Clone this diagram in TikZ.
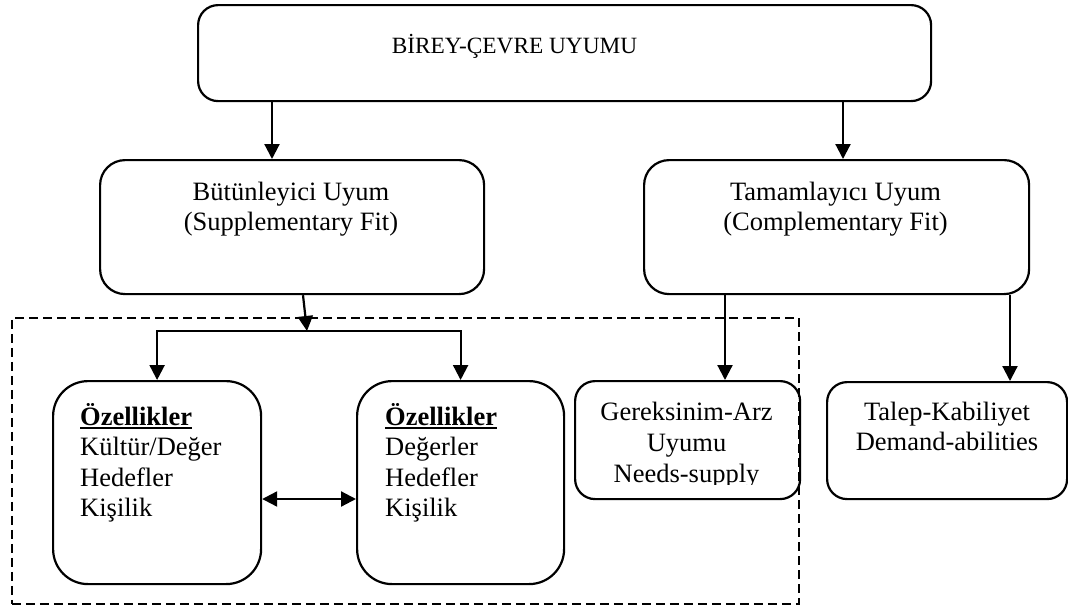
\documentclass[tikz,border=0pt]{standalone}
\usepackage{fontspec}
\setmainfont{Liberation Serif}
\usetikzlibrary{arrows.meta}
% bold heading with a heavy underline just below the baseline
\newcommand\ulhead[1]{\setbox0\hbox{\textbf{#1}}\rlap{\rule[-4pt]{\wd0}{2.4pt}}\box0}
\begin{document}
\begin{tikzpicture}[x=1pt,y=-1pt,
  box/.style={draw, line width=2.2pt, rectangle, inner sep=0pt, anchor=north west},
  lbl/.style={inner sep=0pt, anchor=base, font=\fontsize{26.5}{30}\selectfont},
  tip/.tip={Triangle[length=15pt,width=15pt]},
  arr/.style={line width=2.2pt, -tip},
  dbl/.style={line width=2.2pt, tip-tip},
  frame/.style={draw, line width=1.5pt, dash pattern=on 9pt off 5pt, inner sep=0pt, anchor=north west}]
\useasboundingbox (0,0) rectangle (1068,605);

% boxes
\node[box, rounded corners=20pt, minimum width=733pt, minimum height=96pt] (top) at (197,4) {};
\node[box, rounded corners=25pt, minimum width=384pt, minimum height=134pt] (sup) at (99,159) {};
\node[box, rounded corners=25pt, minimum width=385pt, minimum height=134pt] (comp) at (643,159) {};
\node[frame, minimum width=787pt, minimum height=286pt] (grp) at (11,317) {};
\node[box, rounded corners=35pt, minimum width=208pt, minimum height=203pt] (oz1) at (52,380) {};
\node[box, rounded corners=35pt, minimum width=207pt, minimum height=203pt] (oz2) at (356,380) {};
\node[box, rounded corners=20pt, minimum width=225pt, minimum height=118pt] (needs) at (574,380) {};
\node[box, rounded corners=20pt, minimum width=240pt, minimum height=117pt] (dem) at (826,381) {};

% texts
\node[lbl, font=\fontsize{23.3}{28}\selectfont] (topT) at (514.5,53) {BİREY-ÇEVRE UYUMU};
\node[lbl] (supT) at (291,200) {\begin{tabular}[t]{@{}c@{}}Bütünleyici Uyum\\(Supplementary Fit)\end{tabular}};
\node[lbl] (compT) at (835.5,200) {\begin{tabular}[t]{@{}c@{}}Tamamlayıcı Uyum\\(Complementary Fit)\end{tabular}};
\node[lbl, anchor=base west, font=\fontsize{26.5}{30.5}\selectfont] (oz1T) at (80,425)
  {\begin{tabular}[t]{@{}l@{}}\ulhead{Özellikler}\\Kültür/Değer\\Hedefler\\Kişilik\end{tabular}};
\node[lbl, anchor=base west, font=\fontsize{26.5}{30.5}\selectfont] (oz2T) at (385,425)
  {\begin{tabular}[t]{@{}l@{}}\ulhead{Özellikler}\\Değerler\\Hedefler\\Kişilik\end{tabular}};
\begin{scope}
  \clip (574,380) rectangle (799,484);
  \node[lbl, font=\fontsize{26.5}{31}\selectfont] (needsT) at (686.5,420)
    {\begin{tabular}[t]{@{}c@{}}Gereksinim-Arz\\Uyumu\\Needs-supply\end{tabular}};
\end{scope}
\node[lbl] (demT) at (947,420) {\begin{tabular}[t]{@{}c@{}}Talep-Kabiliyet\\Demand-abilities\end{tabular}};

% connectors
\coordinate (p1) at (272,0);
\coordinate (p2) at (843,0);
\coordinate (p3) at (303,0);
\coordinate (j) at (307,331);
\coordinate (p4) at (0,499);
\coordinate (p5) at (725,0);
\coordinate (p6) at (1010,0);
\draw[arr] (top.south -| p1) -- (sup.north -| p1);
\draw[arr] (top.south -| p2) -- (comp.north -| p2);
\draw[arr] (sup.south -| p3) -- (j);
\draw[arr] (j) -| (oz1.north);
\draw[arr] (j) -| (oz2.north);
\draw[dbl] (oz1.east |- p4) -- (oz2.west |- p4);
\draw[arr] (comp.south -| p5) -- (needs.north -| p5);
\draw[arr] (comp.south -| p6) -- (dem.north -| p6);
\end{tikzpicture}
\end{document}
